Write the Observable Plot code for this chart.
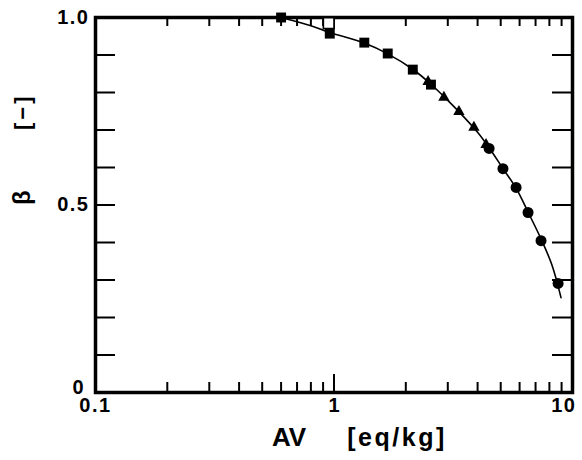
<!DOCTYPE html>
<html>
<head>
<meta charset="utf-8">
<script src="https://cdn.jsdelivr.net/npm/d3@7"></script>
<script src="https://cdn.jsdelivr.net/npm/@observablehq/plot@0.6"></script>
<style>
  html, body { margin: 0; padding: 0; background: #fff; }
  svg { display: block; }
</style>
</head>
<body>
<div id="chart"></div>
<script>
// Data
const squaresX = [0.60, 0.96, 1.34, 1.68, 2.14, 2.55];
const squaresY = [1.0, 0.957, 0.933, 0.904, 0.861, 0.821];
const openSquaresX = [0.95];
const openSquaresY = [0.985];
const trianglesX = [2.48, 2.89, 3.34, 3.86, 4.34];
const trianglesY = [0.829, 0.787, 0.749, 0.707, 0.661];
const circlesX = [4.47, 5.11, 5.80, 6.51, 7.38, 8.70];
const circlesY = [0.651, 0.597, 0.547, 0.48, 0.405, 0.291];
const curveX = [0.6, 0.8, 0.96, 1.34, 1.68, 2.14, 2.55, 3.0, 3.5, 4.0, 4.5, 5.1, 5.8, 6.5, 7.4, 8.2, 8.95];
const curveY = [1.0, 0.978, 0.96, 0.932, 0.903, 0.862, 0.822, 0.779, 0.735, 0.694, 0.65, 0.598, 0.545, 0.482, 0.408, 0.34, 0.253];

const xMinorTicks = [0.2, 0.3, 0.4, 0.5, 0.6, 0.7, 0.8, 0.9, 2, 3, 4, 5, 6, 7, 8, 9];
const xMajorTicks = [1];
const yMinorTicks = [0.1, 0.2, 0.3, 0.4, 0.5, 0.6, 0.7, 0.8, 0.9];
const xTickLabels = [0.1, 1];
const xTickText = ["0.1", "1"];
const xEndLabel = [10];
const xEndText = ["10"];
const yTickLabels = [0.5, 1.0];
const yTickText = ["0.5", "1.0"];
const yZeroText = ["0"];
const xTitle = ["AV", "[eq/kg]"];
const yTitle = ["β", "[−]"];

const pts = (xs, ys) => xs.map((x, i) => ({x, y: ys[i]}));
const squares = pts(squaresX, squaresY);
const openSquares = pts(openSquaresX, openSquaresY);
const triangles = pts(trianglesX, trianglesY);
const circles = pts(circlesX, circlesY);
const curve = pts(curveX, curveY);

const W = 582, H = 460;
const mL = 95, mR = 10, mT = 17, mB = 68;
const fh = H - mT - mB, fw = W - mL - mR;

const font = "'Liberation Sans', Arial, Helvetica, sans-serif";
const ink = "#000000";

const chart = Plot.plot({
  width: W,
  height: H,
  marginLeft: mL,
  marginRight: mR,
  marginTop: mT,
  marginBottom: mB,
  style: {fontFamily: font, background: "#fff", color: ink},
  x: {type: "log", domain: [0.1, 10], axis: null},
  y: {domain: [0, 1], axis: null},
  marks: [
    // ticks inward
    Plot.tickX(xMinorTicks, {x: d => d, insetTop: fh - 10, stroke: ink, strokeWidth: 2}),
    Plot.tickX(xMinorTicks, {x: d => d, insetBottom: fh - 9, stroke: ink, strokeWidth: 2}),
    Plot.tickX(xMajorTicks, {x: d => d, insetTop: fh - 18, stroke: ink, strokeWidth: 2}),
    Plot.tickX(xMajorTicks, {x: d => d, insetBottom: fh - 12, stroke: ink, strokeWidth: 2}),
    Plot.tickY(yMinorTicks, {y: d => d, insetRight: fw - 20, stroke: ink, strokeWidth: 2}),
    Plot.tickY(yMinorTicks, {y: d => d, insetLeft: fw - 20, stroke: ink, strokeWidth: 2}),
    Plot.frame({stroke: ink, strokeWidth: 3.5}),
    // fitted curve
    Plot.line(curve, {x: "x", y: "y", curve: "catmull-rom", stroke: ink, strokeWidth: 1.6}),
    // data
    Plot.dot(openSquares, {x: "x", y: "y", symbol: "square", r: 6, fill: "#fff", stroke: ink, strokeWidth: 1.6}),
    Plot.dot(squares, {x: "x", y: "y", symbol: "square", r: 5.6, fill: ink, stroke: "none"}),
    Plot.dot(triangles, {x: "x", y: "y", symbol: "triangle", r: 4.2, fill: ink, stroke: "none"}),
    Plot.dot(circles, {x: "x", y: "y", symbol: "circle", r: 5.5, fill: ink, stroke: "none"}),
    // tick labels
    Plot.text(xTickLabels, {x: d => d, text: (d, i) => xTickText[i], frameAnchor: "bottom", dy: 19, fontSize: 20, fontWeight: "bold", fill: ink}),
    Plot.text(xEndLabel, {x: d => d, text: (d, i) => xEndText[i], frameAnchor: "bottom", dy: 19, dx: 4, textAnchor: "end", fontSize: 20, fontWeight: "bold", fill: ink}),
    Plot.text(yTickLabels, {y: d => d, text: (d, i) => yTickText[i], frameAnchor: "left", dx: -6, textAnchor: "end", fontSize: 20, fontWeight: "bold", fill: ink}),
    Plot.text(yZeroText, {y: 0, text: d => d, frameAnchor: "left", dx: -12, dy: -5, textAnchor: "end", fontSize: 20, fontWeight: "bold", fill: ink}),
    // axis titles
    Plot.text([xTitle[0]], {text: d => d, frameAnchor: "bottom", dx: -45, dy: 53, fontSize: 26, fontWeight: "bold", fill: ink}),
    Plot.text([xTitle[1]], {text: d => d, frameAnchor: "bottom", dx: 63, dy: 53, fontSize: 25, fontWeight: "bold", fill: ink}),
    Plot.text([yTitle[0]], {text: d => d, frameAnchor: "left", dx: -73, dy: 0, rotate: -90, fontSize: 24, fontWeight: "bold", fill: ink}),
    Plot.text([yTitle[1]], {text: d => d, frameAnchor: "left", dx: -73, dy: -75, rotate: -90, fontSize: 22, fontWeight: "bold", fill: ink})
  ]
});

document.getElementById("chart").appendChild(chart);

// letter spacing to mimic the original typesetting
d3.select(chart).selectAll("text").each(function() {
  const t = this.textContent;
  if (t === "[eq/kg]") d3.select(this).attr("letter-spacing", "2.5px");
  if (t === "0.5" || t === "1.0" || t === "0.1" || t === "10") d3.select(this).attr("letter-spacing", "1.5px");
  if (t === "[−]") d3.select(this).attr("letter-spacing", "3px");
});
</script>
</body>
</html>
